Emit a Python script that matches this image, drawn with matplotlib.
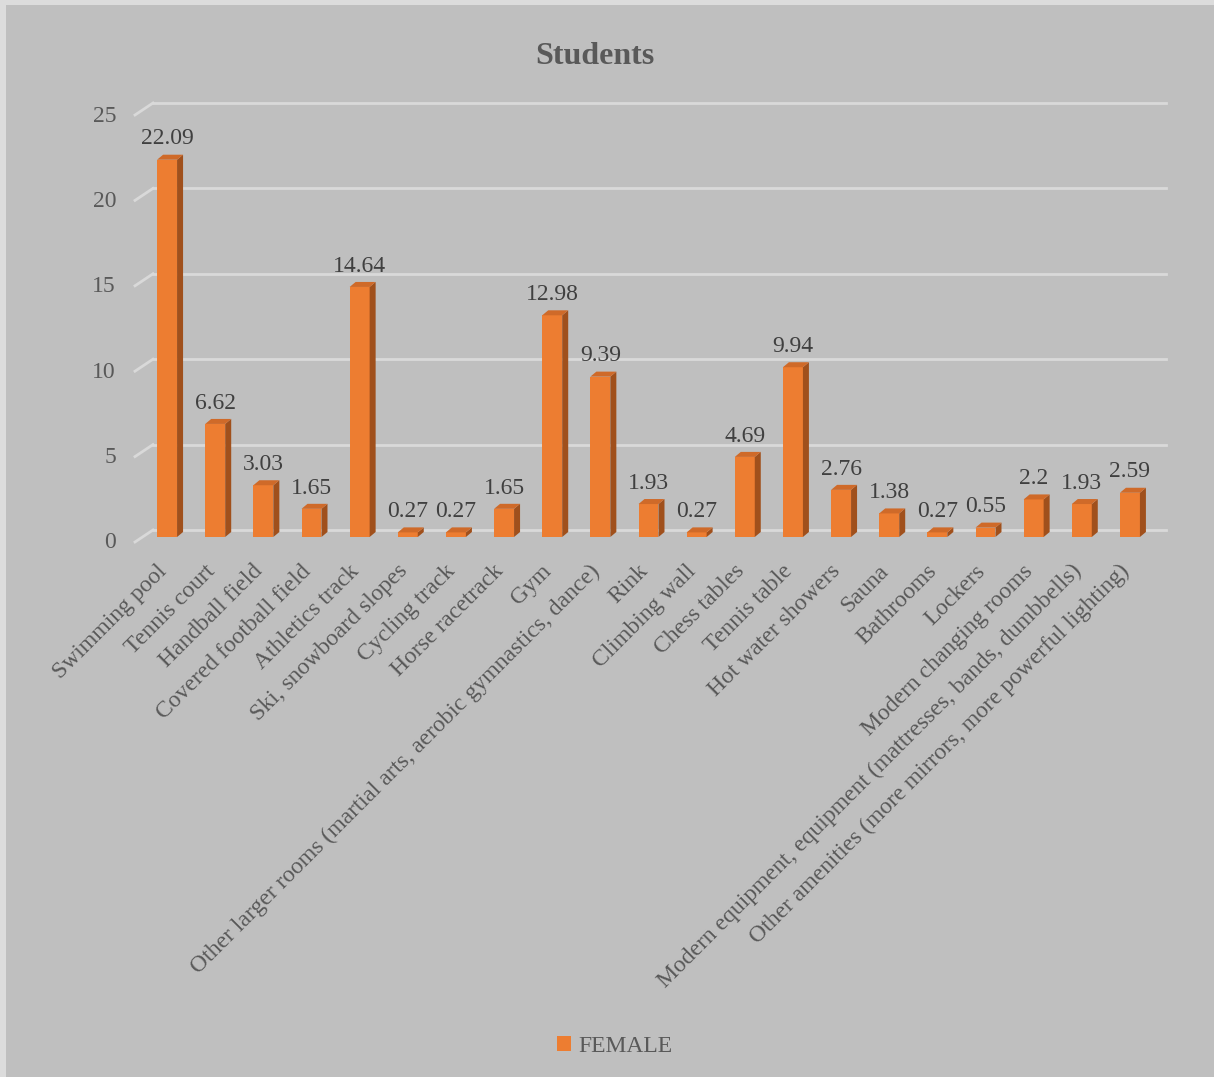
import matplotlib
matplotlib.use("Agg")
import matplotlib.pyplot as plt
from matplotlib.patches import Polygon, Patch, Rectangle

categories = [
    "Swimming pool", "Tennis court", "Handball field", "Covered football field",
    "Athletics track", "Ski, snowboard slopes", "Cycling track", "Horse racetrack",
    "Gym", "Other larger rooms (martial arts, aerobic gymnastics, dance)", "Rink",
    "Climbing wall", "Chess tables", "Tennis table", "Hot water showers", "Sauna",
    "Bathrooms", "Lockers", "Modern changing rooms",
    "Modern equipment, equipment (mattresses, bands, dumbbells)",
    "Other amenities (more mirrors, more powerful lighting)",
]
female = [22.09, 6.62, 3.03, 1.65, 14.64, 0.27, 0.27, 1.65, 12.98, 9.39, 1.93,
          0.27, 4.69, 9.94, 2.76, 1.38, 0.27, 0.55, 2.2, 1.93, 2.59]
y_ticks = [0, 5, 10, 15, 20, 25]

FRONT = "#ED7D31"
SIDE = "#A0501C"
TOP = "#CF6A29"
BG = "#BFBFBF"
GRID = "#D9D9D9"
TXT = "#595959"
FONT = "Liberation Serif"

W, H = 1214, 1077
fig = plt.figure(figsize=(W / 100, H / 100), dpi=100, facecolor="#DCDCDC")
fig.patches.append(Rectangle((6 / W, 0), 1, 1 - 5 / H, transform=fig.transFigure,
                             facecolor=BG, edgecolor="none", zorder=-10))

# plot area in pixels
left, right, bottom, top = 143, 1154, 537, 110
ax = fig.add_axes([left / W, 1 - bottom / H, (right - left) / W, (bottom - top) / H])
ax.set_facecolor("none")
n = len(categories)
ax.set_xlim(-0.5, n - 0.5)
ax.set_ylim(0, 25)
ax.axis("off")

# pixel -> data unit conversions
px_x = n / (right - left)
px_y = 25 / (bottom - top)

# gridlines: back wall line + diagonal floor edge on the left
for t in y_ticks:
    ax.plot([-0.5 + 10 * px_x, n - 0.5 + 12 * px_x], [t + 7 * px_y] * 2,
            color=GRID, lw=2, clip_on=False, zorder=1)
    ax.plot([-0.5 - 8 * px_x, -0.5 + 10 * px_x], [t - 5 * px_y, t + 7 * px_y],
            color=GRID, lw=2, clip_on=False, zorder=1)
    ax.text(-0.5 - 27 * px_x, t - 6 * px_y, str(t), ha="right", va="center",
            fontsize=17, family=FONT, color=TXT)

# 3D-looking bars
width = 0.415
dx, dy = 6 * px_x, 5 * px_y
xs = list(range(n))
ax.bar(xs, female, width=width, color=FRONT, zorder=3)
for x, v in zip(xs, female):
    xl, xr = x - width / 2, x + width / 2
    ax.add_patch(Polygon([(xr, 0), (xr + dx, dy), (xr + dx, v + dy), (xr, v)],
                         closed=True, facecolor=SIDE, edgecolor="none", zorder=3))
    ax.add_patch(Polygon([(xl, v), (xr, v), (xr + dx, v + dy), (xl + dx, v + dy)],
                         closed=True, facecolor=TOP, edgecolor="none", zorder=3))
    ax.annotate(f"{v:g}", (x, v), xytext=(0, 11), textcoords="offset points",
                ha="center", va="baseline", fontsize=17, family=FONT, color="#404040")
    ax.annotate(categories[x], (x, 0), xytext=(-8, -17), textcoords="offset points",
                ha="right", va="top", rotation=45, rotation_mode="anchor",
                fontsize=17, family=FONT, color=TXT, annotation_clip=False)

fig.text(595 / W, 1 - 57 / H, "Students", ha="center", va="center",
         fontsize=23, fontweight="bold", family=FONT, color=TXT)

fig.legend(handles=[Patch(facecolor=FRONT, label="FEMALE")], loc="center",
           bbox_to_anchor=(615 / W, 1 - 1046 / H), frameon=False,
           handlelength=0.6, handleheight=0.6, handletextpad=0.3,
           prop={"family": FONT, "size": 17}, labelcolor=TXT)

fig.savefig("out.png", dpi=100, facecolor=fig.get_facecolor())
